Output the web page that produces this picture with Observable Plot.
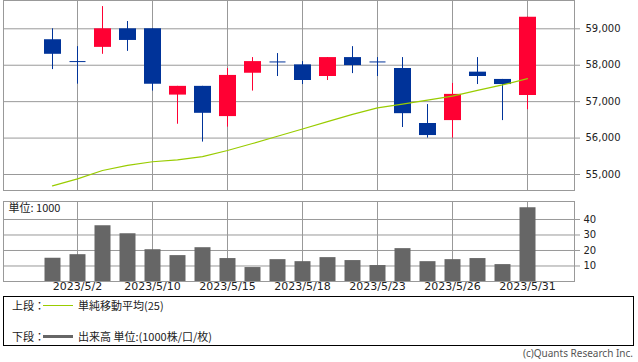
<!DOCTYPE html>
<html>
<head>
<meta charset="utf-8">
<script src="https://cdn.jsdelivr.net/npm/d3@7"></script>
<script src="https://cdn.jsdelivr.net/npm/@observablehq/plot@0.6"></script>
<style>
  html, body { margin: 0; padding: 0; background: #fff; }
  #wrap { position: relative; width: 638px; height: 362px; overflow: hidden; font-family: "DejaVu Sans", "Noto Sans CJK JP", sans-serif; }
  #top { position: absolute; left: 0; top: 0; }
  #vol { position: absolute; left: 0; top: 196px; }
  #legend { position: absolute; left: 3px; top: 296px; width: 629px; height: 48px; border: 1px solid #000; font-family: "Noto Sans CJK JP", sans-serif; font-size: 11px; color: #222; }
  .lbl { position: absolute; line-height: 14px; white-space: nowrap; }
  .sw { position: absolute; width: 30px; }
  #credit { position: absolute; right: 5px; top: 347px; font-family: "Noto Sans", sans-serif; font-size: 10px; color: #555; line-height: 13px; white-space: nowrap; }
</style>
</head>
<body>
<div id="wrap">
  <div id="top"></div>
  <div id="vol"></div>
  <div id="legend">
    <span class="lbl" style="left:8px;top:1px;">上段：</span>
    <span class="sw" style="left:39px;top:8px;border-top:1px solid #99cc00;"></span>
    <span class="lbl" style="left:74px;top:1px;">単純移動平均(25)</span>
    <span class="lbl" style="left:8px;top:32px;">下段：</span>
    <span class="sw" style="left:39px;top:38px;border-top:3px solid #666;"></span>
    <span class="lbl" style="left:74px;top:32px;">出来高 単位:(1000株/口/枚)</span>
  </div>
  <div id="credit">(c)Quants Research Inc.</div>
</div>
<script>
const dates = ["2023/5/1","2023/5/2","2023/5/8","2023/5/9","2023/5/10","2023/5/11","2023/5/12","2023/5/15","2023/5/16","2023/5/17","2023/5/18","2023/5/19","2023/5/22","2023/5/23","2023/5/24","2023/5/25","2023/5/26","2023/5/29","2023/5/30","2023/5/31"];
const openP  = [58700, 58100, 58490, 59000, 59000, 57180, 57420, 56590, 57780, 58090, 58010, 57690, 58210, 58090, 57910, 56400, 56480, 57810, 57610, 57170];
const highP  = [59000, 58510, 59610, 59200, 59000, 57420, 57420, 57910, 58210, 58320, 58100, 58210, 58510, 58210, 58210, 56920, 57500, 58210, 57610, 59320];
const lowP   = [57880, 57480, 58300, 58380, 57290, 56380, 55890, 56300, 57290, 57690, 57470, 57580, 57770, 57690, 56290, 56000, 56000, 57470, 56480, 56780];
const closeP = [58300, 58100, 59000, 58680, 57480, 57420, 56680, 57720, 58100, 58090, 57580, 58210, 57990, 58090, 56670, 56070, 57200, 57690, 57470, 59320];
const ma25   = [54690, 54880, 55110, 55250, 55350, 55400, 55490, 55660, 55850, 56050, 56250, 56450, 56650, 56830, 56930, 57040, 57150, 57310, 57460, 57630];
const volume = [15, 17.3, 36, 30.8, 20.5, 16.7, 21.8, 14.8, 9, 14.1, 12.8, 15.4, 13.5, 10.3, 21.2, 12.8, 14.1, 14.8, 10.9, 47.5];
const xTickLabels = ["2023/5/2","2023/5/10","2023/5/15","2023/5/18","2023/5/23","2023/5/26","2023/5/31"];
const priceTicks = [55000, 56000, 57000, 58000, 59000];
const volTicks = [10, 20, 30, 40];
const volUnitLabel = "単位: 1000";

const UP = "#ff0033", DOWN = "#003399", GRID = "#999999";

const table = dates.map((d, i) => ({
  date: d, open: openP[i], high: highP[i], low: lowP[i], close: closeP[i],
  ma: ma25[i], vol: volume[i],
  color: closeP[i] > openP[i] ? UP : DOWN
}));
const dojis = table.filter(d => d.open === d.close);

// horizontal-bar symbol for doji candles (open == close)
const dojiSymbol = {
  draw(context, size) {
    context.moveTo(-8, 0);
    context.lineTo(8, 0);
  }
};

const xOpts = {type: "point", domain: dates, padding: 1.858, align: 0.51, axis: null, label: null};

const topPlot = Plot.plot({
  width: 638, height: 192,
  marginTop: 0, marginBottom: 2, marginLeft: 3, marginRight: 64,
  style: {fontFamily: "DejaVu Sans", fontSize: "10px", background: "transparent"},
  x: xOpts,
  y: {domain: [54561, 59777], axis: null, label: null},
  marks: [
    Plot.ruleY(priceTicks, {stroke: GRID}),
    Plot.ruleX(xTickLabels, {stroke: GRID}),
    Plot.frame({stroke: GRID}),
    Plot.ruleX(table, {x: "date", y1: "low", y2: "high", stroke: "color"}),
    Plot.ruleX(table, {x: "date", y1: "open", y2: "close", stroke: "color", strokeWidth: 17}),
    Plot.dot(dojis, {x: "date", y: "close", symbol: dojiSymbol, r: 8, fill: "none", stroke: DOWN, strokeWidth: 1}),
    Plot.line(table, {x: "date", y: "ma", stroke: "#99cc00", strokeWidth: 1.2}),
    Plot.axisY({anchor: "right", ticks: priceTicks, tickFormat: d3.format(","), tickSize: 5, tickPadding: 6, stroke: GRID, fill: "#222", fontSize: 10, label: null})
  ]
});
document.getElementById("top").appendChild(topPlot);

const volPlot = Plot.plot({
  width: 638, height: 100,
  marginTop: 5, marginBottom: 15, marginLeft: 3, marginRight: 64,
  style: {fontFamily: "DejaVu Sans", fontSize: "10px", background: "transparent"},
  x: xOpts,
  y: {domain: [0, 51.6], axis: null, label: null},
  marks: [
    Plot.ruleY(volTicks, {stroke: GRID}),
    Plot.ruleX(xTickLabels, {stroke: GRID}),
    Plot.frame({stroke: GRID}),
    Plot.ruleX(table, {x: "date", y1: 0, y2: "vol", stroke: "#666666", strokeWidth: 16}),
    Plot.text([volUnitLabel], {frameAnchor: "top-left", dx: 5, dy: 3, textAnchor: "start", lineAnchor: "top", fontSize: 11, fontFamily: "Noto Sans CJK JP", fill: "#222"}),
    Plot.axisY({anchor: "right", ticks: volTicks, tickSize: 5, tickPadding: 4, stroke: GRID, fill: "#222", fontSize: 10, label: null}),
    Plot.axisX({ticks: xTickLabels, tickSize: 0, tickPadding: 1, fill: "#222", fontSize: 11, label: null})
  ]
});
document.getElementById("vol").appendChild(volPlot);
</script>
</body>
</html>
